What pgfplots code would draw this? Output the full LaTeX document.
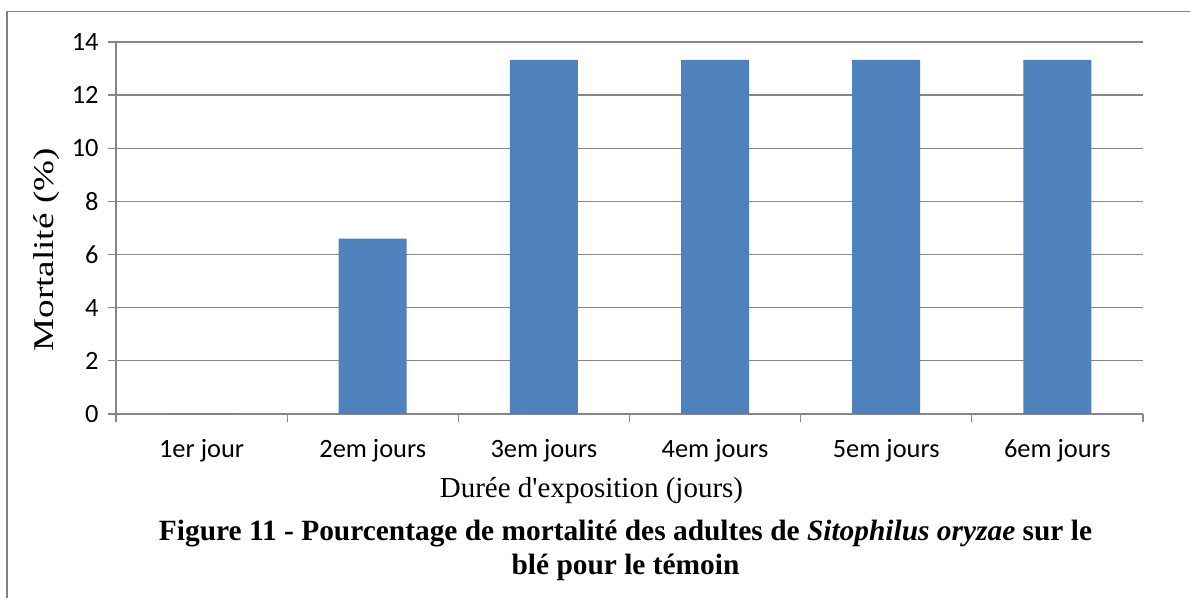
\documentclass[border=0pt]{standalone}
\usepackage{pgfplots}
\pgfplotsset{compat=1.18}
\usepackage{fontspec}
\setmainfont{Liberation Serif}
\newfontfamily\tnrplain{Liberation Serif}[Ligatures=TeXOff]
\newfontfamily\calibri{Carlito}
\definecolor{barblue}{HTML}{4F81BD}
\definecolor{gridgray}{HTML}{868686}
\begin{document}
\begin{tikzpicture}
\begin{axis}[
  at={(58pt,92pt)}, anchor=south west,
  scale only axis, width=513.5pt, height=186pt,
  xmin=-0.5, xmax=5.5, ymin=0, ymax=14,
  ytick={0,2,...,14},
  xtick={-0.5,0.5,...,5.5},
  xticklabels={},
  extra x ticks={0,1,2,3,4,5},
  extra x tick labels={1er jour,2em jours,3em jours,4em jours,5em jours,6em jours},
  extra x tick style={major tick length=0pt, xticklabel style={anchor=base, yshift=-22pt}},
  axis x line*=bottom, axis y line*=left,
  axis line style={gridgray, line width=0.65pt},
  ymajorgrids, grid style={gridgray, line width=0.65pt},
  tick align=outside,
  major tick length=4.2pt,
  tick style={gridgray, line width=0.65pt},
  /pgf/number format/assume math mode=true,
  ticklabel style={font=\calibri\fontsize{13.2}{15}\selectfont},
  yticklabel style={xshift=-1pt},
  xlabel={\tnrplain\fontsize{14.5}{17}\selectfont Durée d'exposition (jours)},
  xlabel style={at={(axis description cs:0.463,-0.2258)}, anchor=base},
  ylabel={\scalebox{1.3}[1]{\fontsize{14.3}{17}\selectfont Mortalité (\%)}},
  ylabel style={at={(axis description cs:-0.0613,0.441)}, anchor=base},
  ybar, bar width=34pt, bar shift=0pt,
  clip=false,
]
\addplot[fill=barblue, draw=none] coordinates {(0,0) (1,6.6) (2,13.33) (3,13.33) (4,13.33) (5,13.33)};
\end{axis}
\node[anchor=base, font=\fontsize{14.7}{17}\selectfont\bfseries] at (312.75pt,28.5pt) {Figure 11 - Pourcentage de mortalité des adultes de \textit{Sitophilus oryzae} sur le};
\node[anchor=base, font=\fontsize{14.7}{17}\selectfont\bfseries] at (312.75pt,11.5pt) {blé pour le témoin};
\draw[gray, line width=0.7pt] (3.5pt,-5pt) -- (3.5pt,293.25pt) -- (600pt,293.25pt);
\pgfresetboundingbox
\useasboundingbox (0,0) rectangle (595pt,299pt);
\end{tikzpicture}
\end{document}
